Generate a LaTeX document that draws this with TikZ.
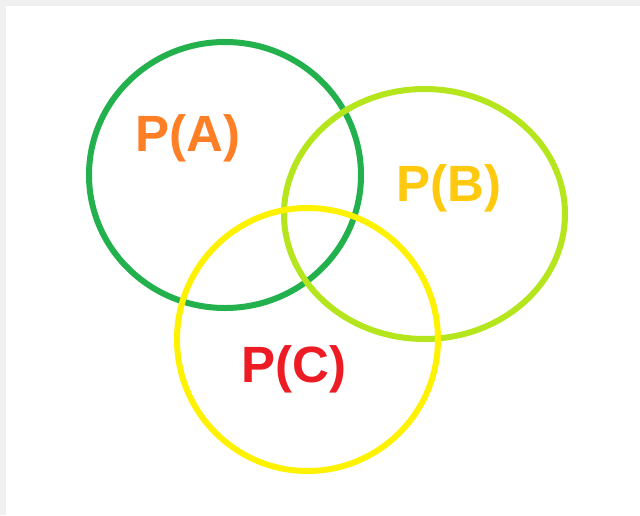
\documentclass[tikz,border=0pt]{standalone}
\usepackage{fontspec}
\setmainfont{Liberation Sans}
\usepackage{xcolor}
\usepackage{tikz}

\definecolor{setA}{HTML}{22B14C}
\definecolor{setB}{HTML}{B5E61D}
\definecolor{setC}{HTML}{FFF200}
\definecolor{textA}{HTML}{FF7F27}
\definecolor{textB}{HTML}{FFC90E}
\definecolor{textC}{HTML}{ED1C24}

\begin{document}
\begin{tikzpicture}[x=1pt,y=-1pt,
    ring/.style={line width=6pt},
    prob/.style={font=\fontsize{51}{51}\selectfont\bfseries, inner sep=0pt}]
    % Here I use a gray frame and white sheet
    \fill[gray!12] (0,0) rectangle (640,515);
    \fill[white] (6,6) rectangle (640,515);
    \useasboundingbox (0,0) rectangle (640,515);

    % Here are the three sets
    \draw[ring, setA] (225,175) ellipse [x radius=136, y radius=133];
    \draw[ring, setB] (424.5,214) ellipse [x radius=140.5, y radius=125];
    \draw[ring, setC] (307.5,339.5) ellipse [x radius=130.5, y radius=131.5];

    % using node for text
    \node[prob, textA] (pa) at (188,138) {P(A)};
    \node[prob, textB] (pb) at (449,188) {P(B)};
    \node[prob, textC] (pc) at (294,369) {P(C)};
\end{tikzpicture}
\end{document}
